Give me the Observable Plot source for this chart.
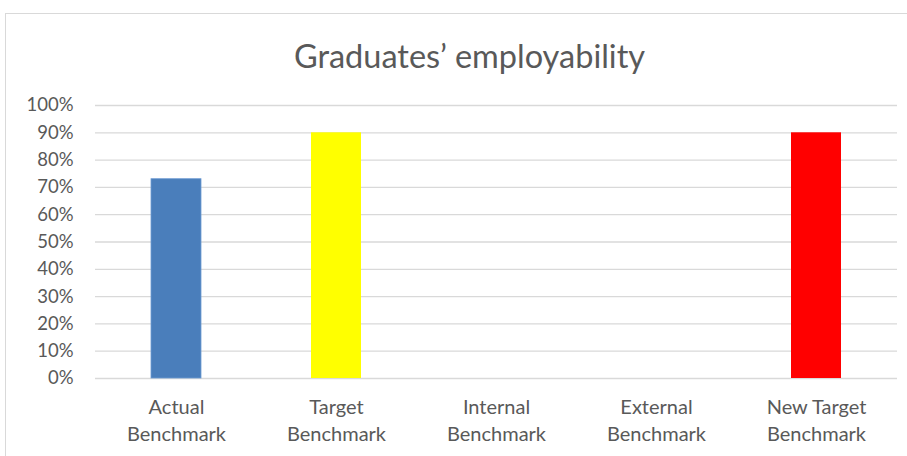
<!DOCTYPE html>
<html>
<head>
<meta charset="utf-8">
<script src="https://cdn.jsdelivr.net/npm/d3@7"></script>
<script src="https://cdn.jsdelivr.net/npm/@observablehq/plot@0.6"></script>
<style>
  html, body { margin: 0; padding: 0; background: #fff; }
  body { width: 907px; height: 456px; position: relative; overflow: hidden; font-family: Lato, "Open Sans", sans-serif; }
  #frame { position: absolute; left: 5px; top: 13px; width: 905px; height: 460px; border: 1px solid #d9d9d9; box-sizing: border-box; }
  #title { position: absolute; left: 16px; width: 907px; top: 36px; text-align: center; font-size: 32.5px; color: #595959; line-height: 40px; z-index: 2; white-space: nowrap; }
  #chart { position: absolute; left: 0; top: 0; }
</style>
</head>
<body>
<div id="frame"></div>
<div id="title">Graduates’ employability</div>
<div id="chart"></div>
<script>
const categories = ["Actual\nBenchmark", "Target\nBenchmark", "Internal\nBenchmark", "External\nBenchmark", "New Target\nBenchmark"];
const values = [0.73, 0.90, 0, 0, 0.90];
const colors = ["#4a7ebb", "#ffff00", "#ffffff", "#ffffff", "#ff0000"];
const yTicks = [0, 0.1, 0.2, 0.3, 0.4, 0.5, 0.6, 0.7, 0.8, 0.9, 1.0];

const data = categories.map((c, i) => ({category: c, value: values[i], color: colors[i]}));

const chart = Plot.plot({
  width: 907,
  height: 456,
  marginLeft: 95,
  marginRight: 10,
  marginTop: 105,
  marginBottom: 78,
  style: {fontFamily: "Lato, 'Open Sans', sans-serif", fontSize: "18px", color: "#595959", background: "transparent"},
  x: {domain: categories, paddingInner: 0.6875, paddingOuter: 0.346, align: 0.5},
  y: {domain: [0, 1]},
  marks: [
    Plot.gridY(yTicks, {stroke: "#d9d9d9", strokeOpacity: 1, strokeWidth: 1.3}),
    Plot.axisY(yTicks, {tickSize: 0, tickPadding: 22, tickFormat: d => Math.round(d * 100) + "%", label: null, fill: "#595959", fontSize: 18.5}),
    Plot.axisX({tickSize: 0, tickPadding: 16, label: null, fill: "#595959", fontSize: 20, lineHeight: 1.35}),
    Plot.barY(data, {x: "category", y: "value", fill: d => d.color, stroke: d => d.value > 0 && d.color === "#4a7ebb" ? "#6d9bd3" : "none", strokeWidth: 0.8})
  ],
  color: {type: "identity"}
});
document.getElementById("chart").appendChild(chart);
</script>
</body>
</html>
